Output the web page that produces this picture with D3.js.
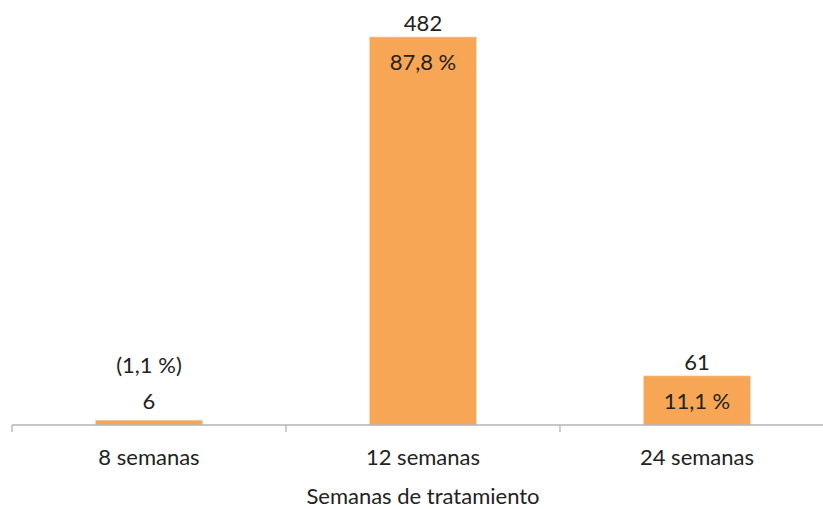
<!DOCTYPE html>
<html>
<head>
<meta charset="utf-8">
<script src="https://cdn.jsdelivr.net/npm/d3@7"></script>
<style>
  body { margin: 0; background: #fff; }
  svg { font-family: Lato, "Open Sans", sans-serif; }
</style>
</head>
<body>
<svg></svg>
<script>
const categories = ["8 semanas", "12 semanas", "24 semanas"];
const counts = [6, 482, 61];
const percents = ["(1,1 %)", "87,8 %", "11,1 %"];
const pctInside = [false, true, true];

const width = 823, height = 509;
const base = 425;
const fs = 22;

const svg = d3.select("svg")
              .attr("width", width)
              .attr("height", height);

const x = d3.scaleBand().domain(categories).range([12, 834]).paddingInner(0.61).paddingOuter(0.305);
const y = d3.scaleLinear().domain([0, 482]).range([base, 37]);

// bars
svg.selectAll(".bar")
   .data(counts)
   .enter()
   .append("rect")
   .attr("class", "bar")
   .attr("x", (d, i) => x(categories[i]))
   .attr("y", d => y(d))
   .attr("width", x.bandwidth())
   .attr("height", d => base - y(d))
   .attr("fill", "#f7a655")
   .attr("stroke", "#f0d8c0")
   .attr("stroke-width", 0.6);

// axis
const axis = svg.append("g").attr("stroke", "#b3b3b3").attr("stroke-width", 1.3);
axis.append("line").attr("x1", 12).attr("x2", width).attr("y1", base).attr("y2", base);
categories.forEach((c, i) => {
  const tx = x(c) - x.step() * x.paddingInner() / 2;
  axis.append("line").attr("x1", tx).attr("x2", tx).attr("y1", base).attr("y2", base + 7);
});

svg.selectAll(".tick-label")
   .data(categories)
   .enter()
   .append("text")
   .attr("x", d => x(d) + x.bandwidth() / 2)
   .attr("y", 465)
   .attr("text-anchor", "middle")
   .attr("font-size", fs)
   .attr("fill", "#222")
   .text(d => d);

svg.append("text")
   .attr("x", x(categories[1]) + x.bandwidth() / 2)
   .attr("y", 504)
   .attr("text-anchor", "middle")
   .attr("font-size", fs)
   .attr("fill", "#222")
   .text("Semanas de tratamiento");

// count labels above bars
svg.selectAll(".count")
   .data(counts)
   .enter()
   .append("text")
   .attr("x", (d, i) => x(categories[i]) + x.bandwidth() / 2)
   .attr("y", (d, i) => pctInside[i] ? y(d) - 6 : y(d) - 11)
   .attr("text-anchor", "middle")
   .attr("font-size", fs)
   .attr("fill", "#222")
   .text(d => d);

// percent labels
svg.selectAll(".pct")
   .data(percents)
   .enter()
   .append("text")
   .attr("x", (d, i) => x(categories[i]) + x.bandwidth() / 2)
   .attr("y", (d, i) => pctInside[i] ? y(counts[i]) + 33 : y(counts[i]) - 47)
   .attr("text-anchor", "middle")
   .attr("font-size", fs)
   .attr("fill", "#222")
   .text(d => d);
</script>
</body>
</html>
